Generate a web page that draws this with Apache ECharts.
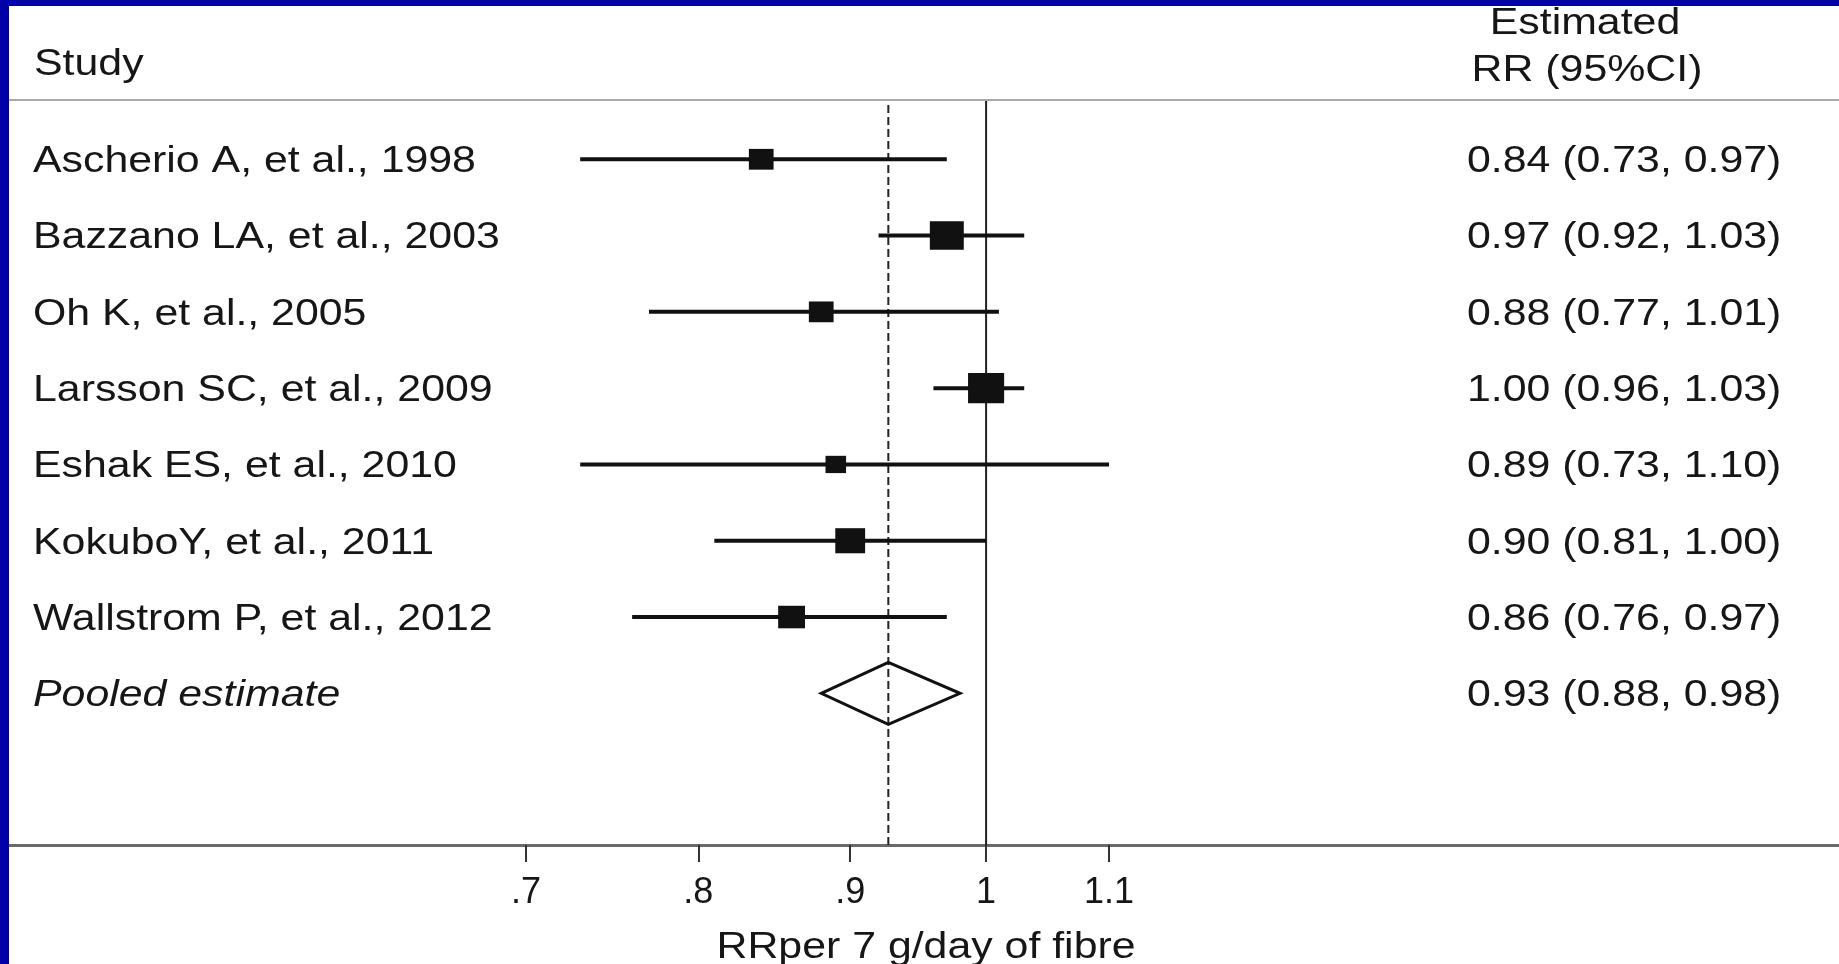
<!DOCTYPE html>
<html>
<head>
<meta charset="utf-8">
<script src="https://cdn.jsdelivr.net/npm/echarts@6/dist/echarts.min.js"></script>
<style>
html, body { margin: 0; padding: 0; background: #ffffff; }
#chart { width: 1839px; height: 964px; }
</style>
</head>
<body>
<div id="chart"></div>
<script>
// ---------------- data ----------------
const studies = [
  'Ascherio A, et al., 1998',
  'Bazzano LA, et al., 2003',
  'Oh K, et al., 2005',
  'Larsson SC, et al., 2009',
  'Eshak ES, et al., 2010',
  'KokuboY, et al., 2011',
  'Wallstrom P, et al., 2012'
];
const estimates = [0.84, 0.97, 0.88, 1.00, 0.89, 0.90, 0.86];
const lowerCI   = [0.73, 0.92, 0.77, 0.96, 0.73, 0.81, 0.76];
const upperCI   = [0.97, 1.03, 1.01, 1.03, 1.10, 1.00, 0.97];
const weights   = [10.7, 20.2, 10.7, 22.8, 7.4, 15.6, 12.6];   // relative study weights (%)
const pooledLabel = 'Pooled estimate';
const pooledEstimate = 0.927;
const pooledLower = 0.88;
const pooledUpper = 0.98;
const nullValue = 1;
const tickValues = [0.7, 0.8, 0.9, 1, 1.1];
const tickLabels = ['.7', '.8', '.9', '1', '1.1'];
const xAxisTitle = 'RRper 7 g/day of fibre';
const headerLeft = 'Study';
const headerRight = ['Estimated', 'RR (95%CI)'];

// ---------------- helpers ----------------
const FONT = '"Liberation Sans", Arial, Helvetica, sans-serif';
const TXT = '#161616';
const SX = 1.19;           // horizontal stretch of the reference picture
const Y_MIN = -0.777, Y_MAX = 8.988;
const fmtRR = (e, l, h) => e.toFixed(2) + ' (' + l.toFixed(2) + ', ' + h.toFixed(2) + ')';

const pooledRow = studies.length;
const ciData = studies.map((s, i) => [lowerCI[i], upperCI[i], i]);
const pointData = studies.map((s, i) => [estimates[i], i]);
const diamondData = [[pooledLower, pooledEstimate, pooledUpper, pooledRow]];
const refLineData = [[nullValue, Y_MIN, Y_MAX, 0], [pooledEstimate, Y_MIN, Y_MAX, 1]];
const textRows = studies.map((s, i) => ({ value: [nullValue, i], name: s, rr: fmtRR(estimates[i], lowerCI[i], upperCI[i]), italic: false }));
textRows.push({ value: [nullValue, pooledRow], name: pooledLabel, rr: fmtRR(pooledEstimate, pooledLower, pooledUpper), italic: true });

function txt(x, y, text, align, italic) {
  return {
    type: 'text', x: x, y: y, scaleX: SX, scaleY: 1,
    style: {
      text: text, x: 0, y: 0,
      fontSize: 36, fontFamily: FONT, fontStyle: italic ? 'italic' : 'normal',
      fill: TXT, align: align, verticalAlign: 'middle',
      textAlign: align, textVerticalAlign: 'middle'
    }
  };
}

const chart = echarts.init(document.getElementById('chart'), null, { renderer: 'canvas' });

const option = {
  backgroundColor: '#ffffff',
  animation: false,
  grid: { left: 9, right: 0, top: 100, bottom: 119, containLabel: false },
  xAxis: {
    type: 'log',
    logBase: 10,
    min: 0.4688,
    max: 1.9373,
    axisLine: { show: true, onZero: false, lineStyle: { color: '#6a6a6a', width: 3 } },
    axisTick: { show: true, customValues: tickValues, length: 17, lineStyle: { color: '#333333', width: 2 } },
    minorTick: { show: false },
    axisLabel: {
      show: true,
      customValues: tickValues,
      margin: 30,
      fontSize: 36,
      fontFamily: FONT,
      color: TXT,
      formatter: function (v) {
        for (let k = 0; k < tickValues.length; k++) {
          if (Math.abs(tickValues[k] - v) < 1e-6) return tickLabels[k];
        }
        return '';
      }
    },
    splitLine: { show: false }
  },
  yAxis: {
    type: 'value',
    inverse: true,
    min: Y_MIN,
    max: Y_MAX,
    show: false,
    splitLine: { show: false }
  },
  graphic: [
    { type: 'rect', left: 0, top: 0, shape: { width: 9, height: 964 }, style: { fill: '#0000a8' }, z: 100 },
    { type: 'rect', left: 0, top: 0, shape: { width: 1839, height: 6 }, style: { fill: '#0000a8' }, z: 100 },
    { type: 'line', shape: { x1: 9, y1: 100, x2: 1839, y2: 100 }, style: { stroke: '#a8a8a8', lineWidth: 2 }, z: 10 },
    Object.assign(txt(34, 65, headerLeft, 'left', false), { z: 10 }),
    Object.assign(txt(1585, 24, headerRight[0], 'center', false), { z: 10 }),
    Object.assign(txt(1587, 71, headerRight[1], 'center', false), { z: 10 }),
    Object.assign(txt(926, 948, xAxisTitle, 'center', false), { z: 10 })
  ],
  series: [
    {
      type: 'custom',
      name: 'reference lines',
      coordinateSystem: 'cartesian2d',
      encode: { x: 0, y: [1, 2] },
      data: refLineData,
      z: 2,
      silent: true,
      renderItem: function (params, api) {
        const a = api.coord([api.value(0), api.value(1)]);
        const b = api.coord([api.value(0), api.value(2)]);
        const dashed = api.value(3) === 1;
        return {
          type: 'line',
          shape: { x1: a[0], y1: a[1] + (dashed ? 5 : 0), x2: b[0], y2: b[1] },
          style: { stroke: '#222222', lineWidth: 2, lineDash: dashed ? [8, 4] : null }
        };
      }
    },
    {
      type: 'custom',
      name: 'ci',
      coordinateSystem: 'cartesian2d',
      encode: { x: [0, 1], y: 2 },
      data: ciData,
      z: 3,
      renderItem: function (params, api) {
        const a = api.coord([api.value(0), api.value(2)]);
        const b = api.coord([api.value(1), api.value(2)]);
        return {
          type: 'line',
          shape: { x1: a[0], y1: a[1], x2: b[0], y2: b[1] },
          style: { stroke: '#111111', lineWidth: 4 }
        };
      }
    },
    {
      type: 'scatter',
      name: 'estimate',
      data: pointData,
      symbol: 'rect',
      symbolSize: function (val, p) {
        const h = 6.35 * Math.sqrt(weights[p.dataIndex]);
        return [h * SX, h];
      },
      itemStyle: { color: '#111111', opacity: 1 },
      z: 4
    },
    {
      type: 'custom',
      name: 'pooled',
      coordinateSystem: 'cartesian2d',
      encode: { x: [0, 1, 2], y: 3 },
      data: diamondData,
      z: 5,
      renderItem: function (params, api) {
        const l = api.coord([api.value(0), api.value(3)]);
        const c = api.coord([api.value(1), api.value(3)]);
        const r = api.coord([api.value(2), api.value(3)]);
        const hh = 31;
        return {
          type: 'polygon',
          shape: { points: [[l[0], l[1]], [c[0], c[1] - hh], [r[0], r[1]], [c[0], c[1] + hh]] },
          style: { fill: 'none', stroke: '#111111', lineWidth: 3, lineJoin: 'miter' }
        };
      }
    },
    {
      type: 'custom',
      name: 'labels',
      coordinateSystem: 'cartesian2d',
      encode: { x: 0, y: 1 },
      data: textRows,
      z: 6,
      renderItem: function (params, api) {
        const row = textRows[params.dataIndex];
        const p = api.coord([api.value(0), api.value(1)]);
        const y = p[1] + 3;
        return {
          type: 'group',
          children: [
            txt(33, y, row.name, 'left', row.italic),
            txt(1467, y, row.rr, 'left', false)
          ]
        };
      }
    }
  ]
};

chart.setOption(option);
</script>
</body>
</html>
